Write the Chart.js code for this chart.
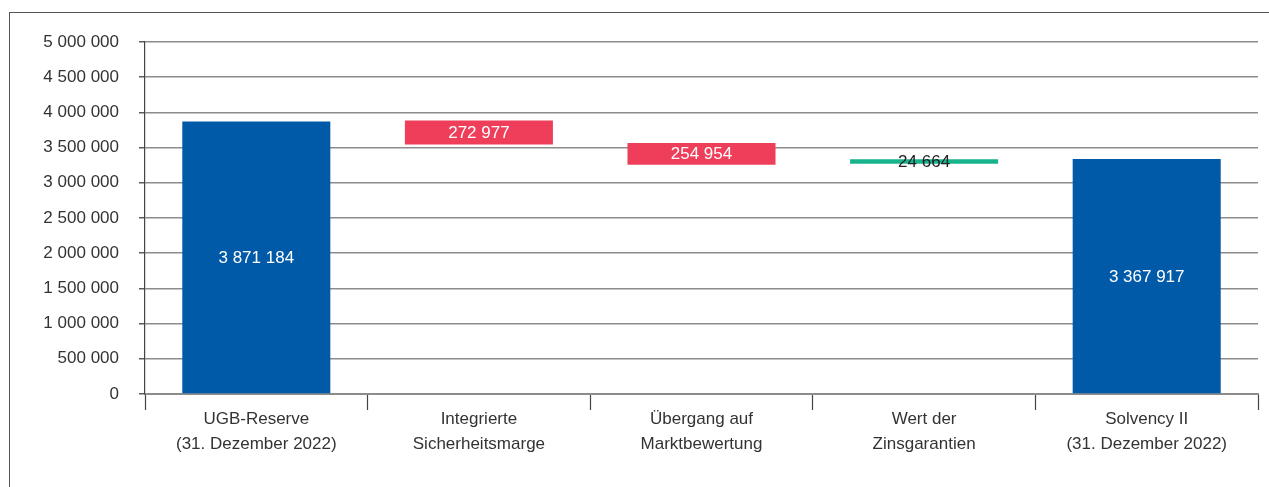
<!DOCTYPE html>
<html>
<head>
<meta charset="utf-8">
<script src="https://cdn.jsdelivr.net/npm/chart.js@4.4.1/dist/chart.umd.min.js"></script>
<style>
  html, body { margin: 0; padding: 0; background: #fff; overflow: hidden; }
  #wrap { position: absolute; left: 0; top: 0; width: 1269px; height: 487px; }
  #frame { position: absolute; left: 9px; top: 12px; width: 1400px; height: 600px;
           border-left: 1.5px solid #555; border-top: 1.5px solid #555; box-sizing: border-box; }
  canvas { position: absolute; left: 0; top: 0; }
</style>
</head>
<body>
<div id="wrap">
  <div id="frame"></div>
  <canvas id="c" width="1269" height="487"></canvas>
</div>
<script>
// Categories (multi-line labels)
const categories = [
  ["UGB-Reserve", "(31. Dezember 2022)"],
  ["Integrierte", "Sicherheitsmarge"],
  ["Übergang auf", "Marktbewertung"],
  ["Wert der", "Zinsgarantien"],
  ["Solvency II", "(31. Dezember 2022)"]
];
// Floating bar ranges
const barStart = [0, 3543000, 3258000, 3269000, 0];
const barEnd   = [3871184, 3885000, 3567000, 3333000, 3339000];
// Printed values
const valueLabels = ["3 871 184", "272 977", "254 954", "24 664", "3 367 917"];
// Colours
const barColors = ["#005aa8", "#ee3e5a", "#ee3e5a", "#17b38c", "#005aa8"];
const labelColors = ["#ffffff", "#ffffff", "#ffffff", "#222222", "#ffffff"];
// Y ticks
const yMin = 0, yMax = 5000000, yStep = 500000;

const fmt = v => String(Math.round(v)).replace(/\B(?=(\d{3})+(?!\d))/g, " ");
const FONT = "'Liberation Sans', Arial, sans-serif";

const labelPlugin = {
  id: 'valueLabels',
  afterDatasetsDraw(chart) {
    const ctx = chart.ctx;
    const meta = chart.getDatasetMeta(0);
    ctx.save();
    ctx.font = "17px " + FONT;
    ctx.textAlign = 'center';
    ctx.textBaseline = 'middle';
    meta.data.forEach((el, i) => {
      const p = el.getProps(['x', 'y', 'base'], true);
      ctx.fillStyle = labelColors[i];
      ctx.fillText(valueLabels[i], p.x, (p.y + p.base) / 2 + 1);
    });
    ctx.restore();
  }
};

new Chart(document.getElementById('c'), {
  type: 'bar',
  data: {
    labels: categories,
    datasets: [{
      data: barStart.map((s, i) => [s, barEnd[i]]),
      backgroundColor: barColors,
      borderWidth: 0,
      barPercentage: 0.665,
      categoryPercentage: 1.0
    }]
  },
  options: {
    responsive: false,
    animation: false,
    devicePixelRatio: 1,
    layout: { padding: { top: 42, right: 11, left: 0, bottom: 0 } },
    plugins: { legend: { display: false }, tooltip: { enabled: false } },
    scales: {
      x: {
        offset: true,
        grid: { drawOnChartArea: false, drawTicks: true, tickLength: 16, offset: true,
                tickColor: '#444', tickWidth: 1.2 },
        border: { display: true, color: '#8c8c8c', width: 2 },
        ticks: { font: { family: FONT, size: 17, lineHeight: 1.47 }, color: '#333', padding: -3,
                 maxRotation: 0, autoSkip: false },
        afterFit(scale) { scale.height = 93; }
      },
      y: {
        min: yMin, max: yMax,
        grid: { color: '#8c8c8c', lineWidth: 1.6, drawTicks: true, tickLength: 6,
                tickColor: '#333', tickWidth: 1.2 },
        border: { display: true, color: '#444', width: 1.2 },
        ticks: { stepSize: yStep, font: { family: FONT, size: 17 }, color: '#333', padding: 20,
                 callback: v => fmt(v) },
        afterFit(scale) { scale.width = 145; }
      }
    }
  },
  plugins: [labelPlugin]
});
</script>
</body>
</html>
